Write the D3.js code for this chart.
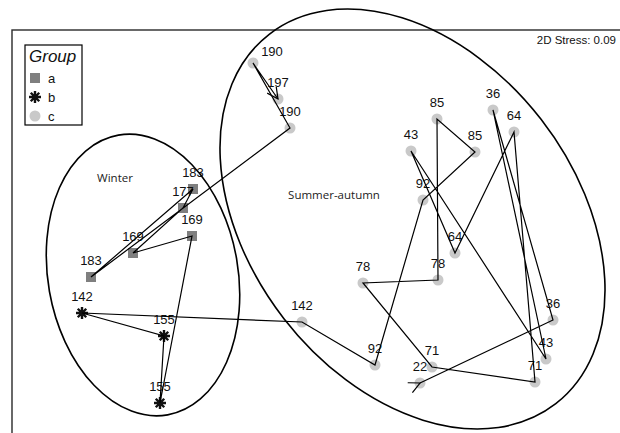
<!DOCTYPE html>
<html><head><meta charset="utf-8">
<script src="https://cdn.jsdelivr.net/npm/d3@7"></script>
<style>html,body{margin:0;padding:0;background:#fff;} svg{display:block;}</style>
</head><body>
<svg id="chart" width="620" height="433"></svg>
<script>
// nMDS ordination, samples listed in time order (labels are sampling days)
const sampleLabels = ["22","36","36","43","43","64","64","71","71","78","78","85","85","92","92","142","142","155","155","169","169","177","183","183","190","190","197"];
const sampleGroups = ["c","c","c","c","c","c","c","c","c","c","c","c","c","c","c","c","b","b","b","a","a","a","a","a","c","c","c"];
const mdsX = [0.90,2.23,1.63,2.16,0.81,1.25,1.84,2.05,1.02,0.33,1.08,1.07,1.45,0.93,0.45,-0.28,-2.48,-1.66,-1.70,-1.38,-1.97,-1.47,-1.37,-2.39,-0.40,-0.77,-0.52];
const mdsY = [-1.53,-0.90,1.20,-1.29,0.79,-0.23,0.98,-1.52,-1.37,-0.53,-0.50,1.11,0.78,0.30,-1.35,-0.92,-0.83,-1.06,-1.73,-0.06,-0.23,0.22,0.41,-0.47,1.02,1.67,1.31];
const groupNames = ["a","b","c"];
const legendTitle = "Group";
const stressText = "2D Stress: 0.09";

// seasonal clusters outlined by ellipses (MDS units, tilt in degrees)
const clusterNames = ["Winter","Summer-autumn"];
const clusterCx = [-1.87, 0.825];
const clusterCy = [-0.45, 0.11];
const clusterRx = [0.95, 1.627];
const clusterRy = [1.42, 2.338];
const clusterTilt = [-10, -37.8];
const clusterLabelX = [-2.15, 0.04];
const clusterLabelY = [0.52, 0.35];

const W = 620, H = 433;
const svg = d3.select("#chart");
const font = "'Liberation Sans', Arial, Helvetica, sans-serif";

// equal-aspect scales: 100 px per MDS unit on both axes
const x = d3.scaleLinear().domain([-3.2, 2.9]).range([10, 620]);
const y = d3.scaleLinear().domain([-2.1, 2.3]).range([440, 0]);
const unit = x(1) - x(0);

const samples = sampleLabels.map((lab, i) => ({label: lab, group: sampleGroups[i], mx: mdsX[i], my: mdsY[i], idx: i}));

// labels sit centred above their point; a crowded one is moved aside
const labelPlacement = {25: {dx: 19, dy: 5}};

// plot frame
svg.append("rect")
  .attr("x", 12).attr("y", 30).attr("width", 640).attr("height", 440)
  .attr("fill", "none").attr("stroke", "#2a2a2a").attr("stroke-width", 1.4);

// arrowhead used at both ends of the trajectory
const defs = svg.append("defs");
defs.append("marker")
  .attr("id", "arrow").attr("viewBox", "-13 -7 15 14")
  .attr("refX", 0).attr("refY", 0)
  .attr("markerUnits", "userSpaceOnUse")
  .attr("markerWidth", 15).attr("markerHeight", 14)
  .attr("orient", "auto")
  .append("path").attr("d", "M-11,-5.5L0,0L-11,5.5")
  .attr("fill", "none").attr("stroke", "#000").attr("stroke-width", 1.2);

// symbols
function drawSymbol(g, group, cx, cy) {
  if (group === "a") {
    g.append("rect").attr("x", cx - 5).attr("y", cy - 5).attr("width", 10).attr("height", 10)
      .attr("fill", "#7f7f7f");
  } else if (group === "b") {
    const r = 6;
    const p = d3.path();
    for (let k = 0; k < 4; k++) {
      const a = k * Math.PI / 4;
      p.moveTo(cx - r * Math.cos(a), cy - r * Math.sin(a));
      p.lineTo(cx + r * Math.cos(a), cy + r * Math.sin(a));
    }
    g.append("path").attr("d", p.toString()).attr("stroke", "#111").attr("stroke-width", 2.4)
      .attr("stroke-linecap", "butt").attr("fill", "none");
    g.append("circle").attr("cx", cx).attr("cy", cy).attr("r", 2.2).attr("fill", "#111");
  } else {
    g.append("circle").attr("cx", cx).attr("cy", cy).attr("r", 5.5).attr("fill", "#c9c9c9");
  }
}

const symG = svg.append("g");
samples.forEach(d => drawSymbol(symG, d.group, x(d.mx), y(d.my)));

// sample labels
svg.append("g").selectAll("text").data(samples).join("text")
  .attr("x", d => x(d.mx) + (labelPlacement[d.idx] ? labelPlacement[d.idx].dx : 0))
  .attr("y", d => y(d.my) - 12 + (labelPlacement[d.idx] ? labelPlacement[d.idx].dy : 0))
  .attr("text-anchor", "middle")
  .attr("font-family", font).attr("font-size", 13).attr("fill", "#111")
  .text(d => d.label);

// trajectory through time
const line = d3.line().x(d => x(d.mx)).y(d => y(d.my));
svg.append("path").datum(samples)
  .attr("d", line)
  .attr("fill", "none").attr("stroke", "#000").attr("stroke-width", 1.2)
  .attr("marker-start", "url(#arrow)").attr("marker-end", "url(#arrow)");

// cluster ellipses and their names
clusterNames.forEach((name, i) => {
  const cx = x(clusterCx[i]), cy = y(clusterCy[i]);
  svg.append("ellipse")
    .attr("cx", 0).attr("cy", 0)
    .attr("rx", clusterRx[i] * unit).attr("ry", clusterRy[i] * unit)
    .attr("transform", `translate(${cx},${cy}) rotate(${clusterTilt[i]})`)
    .attr("fill", "none").attr("stroke", "#000").attr("stroke-width", 1.6);
  svg.append("text")
    .attr("x", x(clusterLabelX[i])).attr("y", y(clusterLabelY[i]) + 4)
    .attr("text-anchor", "middle")
    .attr("font-family", "'Open Sans', 'Liberation Sans', sans-serif").attr("font-size", 11.5)
    .attr("fill", "#222")
    .text(name);
});

// stress value
svg.append("text").attr("x", 616).attr("y", 44).attr("text-anchor", "end")
  .attr("font-family", font).attr("font-size", 11.5).attr("fill", "#111")
  .text(stressText);

// legend
const lg = svg.append("g");
lg.append("rect").attr("x", 25).attr("y", 45).attr("width", 57).attr("height", 80)
  .attr("fill", "#fff").attr("stroke", "#000").attr("stroke-width", 1.2);
lg.append("text").attr("x", 29).attr("y", 62)
  .attr("font-family", font).attr("font-size", 17).attr("font-style", "italic").attr("fill", "#111")
  .text(legendTitle);
groupNames.forEach((gname, i) => {
  const cy = 78 + i * 19;
  drawSymbol(lg, gname, 35, cy);
  lg.append("text").attr("x", 48).attr("y", cy + 4.5)
    .attr("font-family", font).attr("font-size", 13).attr("fill", "#111")
    .text(gname);
});
</script>
</body></html>
